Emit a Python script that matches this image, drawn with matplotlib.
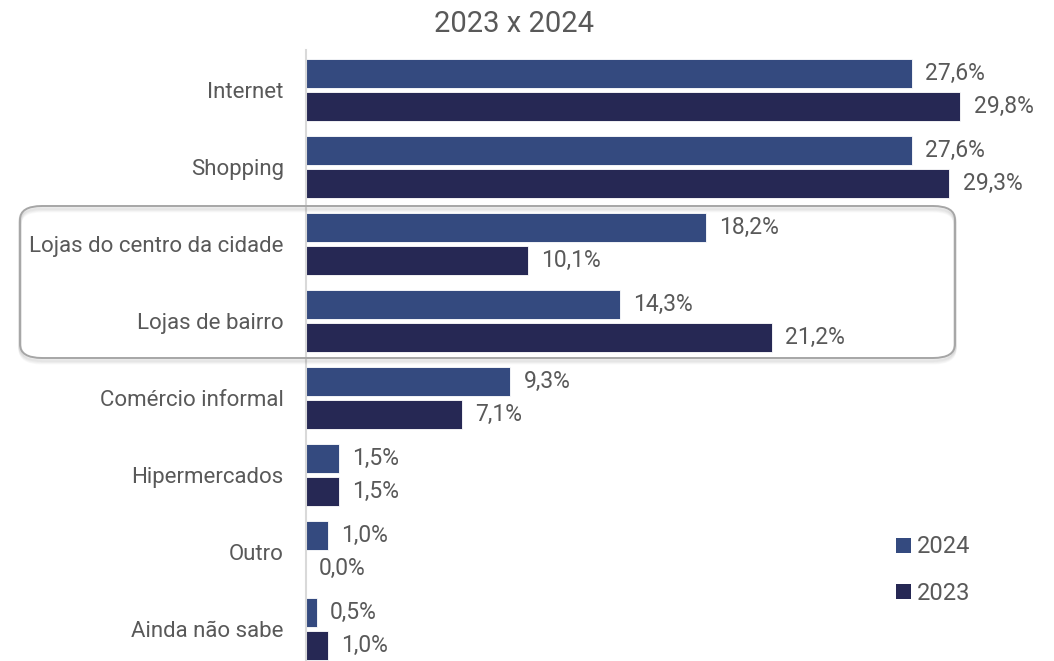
import matplotlib
matplotlib.use("Agg")
import matplotlib.pyplot as plt
from matplotlib.patches import FancyBboxPatch, Patch
import numpy as np

plt.rcParams['font.family'] = ['Roboto', 'DejaVu Sans']

categories = ["Internet", "Shopping", "Lojas do centro da cidade", "Lojas de bairro",
              "Comércio informal", "Hipermercados", "Outro", "Ainda não sabe"]
values_2024 = [27.6, 27.6, 18.2, 14.3, 9.3, 1.5, 1.0, 0.5]
values_2023 = [29.8, 29.3, 10.1, 21.2, 7.1, 1.5, 0.0, 1.0]
series_labels = ["2024", "2023"]
title = "2023 x 2024"

color_2024 = "#344a7f"
color_2023 = "#262854"
text_color = "#595959"

W, H = 1054, 661
fig = plt.figure(figsize=(W / 100, H / 100), dpi=100)

# axes placement in pixel units
ax_left, ax_right, ax_top, ax_bottom = 306, 1053, 50, 661
ax = fig.add_axes([ax_left / W, 1 - ax_bottom / H, (ax_right - ax_left) / W, (ax_bottom - ax_top) / H])

pitch = 77.0
center0 = 90.0
bar_h = 29 / pitch
off = 16.5 / pitch

y = np.arange(len(categories))
ax.barh(y - off, values_2024, height=bar_h, color=color_2024, edgecolor="white", linewidth=0.6)
ax.barh(y + off, values_2023, height=bar_h, color=color_2023, edgecolor="white", linewidth=0.6)

xmax = (ax_right - ax_left) / 21.96
ax.set_xlim(0, xmax)
ax.set_ylim((ax_bottom - center0) / pitch, (ax_top - center0) / pitch)

for vals, dy in ((values_2024, -off), (values_2023, off)):
    for i, v in enumerate(vals):
        ax.annotate(f"{v:.1f}%".replace(".", ","), (v, i + dy), xytext=(9.5, 0),
                    textcoords="offset points", va="center", ha="left",
                    fontsize=16.5, color=text_color)

ax.set_yticks(y)
ax.set_yticklabels(categories, fontsize=16, color=text_color)
ax.tick_params(axis="y", length=0, pad=16)
ax.set_xticks([])
for s in ("top", "right", "bottom"):
    ax.spines[s].set_visible(False)
ax.spines["left"].set_color("#d9d9d9")
ax.spines["left"].set_linewidth(1.5)

fig.text(514 / W, 1 - 24 / H, title, ha="center", va="center", fontsize=21, color=text_color)

# highlight box around the store categories, with a soft shadow
bx0, by0, bx1, by1 = 20, 206, 955, 358
for k in range(6, 0, -1):
    sh = FancyBboxPatch((bx0 / W, 1 - (by1 + k * 0.8) / H), (bx1 - bx0) / W, (by1 - by0) / H,
                        boxstyle=f"round,pad=0,rounding_size={22 / W}",
                        transform=fig.transFigure, facecolor="none",
                        edgecolor="#000000", alpha=0.025, linewidth=2.5)
    fig.add_artist(sh)
box = FancyBboxPatch((bx0 / W, 1 - by1 / H), (bx1 - bx0) / W, (by1 - by0) / H,
                     boxstyle=f"round,pad=0,rounding_size={22 / W}",
                     transform=fig.transFigure, facecolor="none",
                     edgecolor="#a6a6a6", linewidth=1.4)
fig.add_artist(box)

handles = [Patch(facecolor=color_2024), Patch(facecolor=color_2023)]
fig.legend(handles, series_labels, loc="upper left", bbox_to_anchor=(887 / W, 1 - 526 / H),
           frameon=False, fontsize=17, labelcolor=text_color, handlelength=0.6,
           handleheight=0.6, handletextpad=0.25, labelspacing=1.0, borderaxespad=0)

fig.savefig("out.png", dpi=100, facecolor="white")
